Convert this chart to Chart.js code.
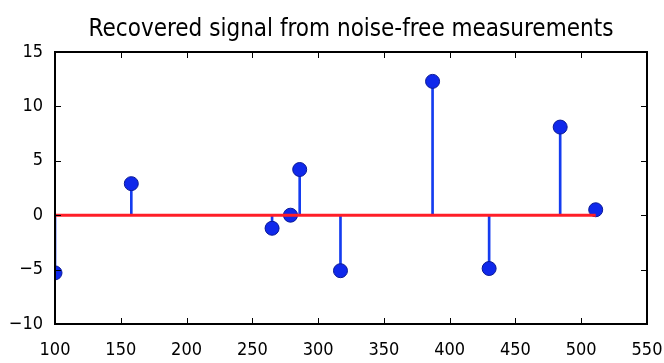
<!DOCTYPE html>
<html>
<head>
<meta charset="utf-8">
<script src="https://cdn.jsdelivr.net/npm/chart.js@4/dist/chart.umd.min.js"></script>
<style>
  html, body { margin: 0; padding: 0; background: #fff; }
  #wrap { width: 664px; height: 363px; }
</style>
</head>
<body>
<div id="wrap"><canvas id="stemChart"></canvas></div>
<script>
// recovered signal (sample index / amplitude)
var positions = [100, 158, 265, 279, 286, 317, 387, 430, 484, 511];
var amplitudes = [-5.3, 2.9, -1.2, 0.0, 4.2, -5.1, 12.3, -4.9, 8.1, 0.5];
var xTicks = [100, 150, 200, 250, 300, 350, 400, 450, 500, 550];
var yTicks = [-10, -5, 0, 5, 10, 15];
var titleText = 'Recovered signal from noise-free measurements';

var pts = positions.map(function (x, i) { return { x: x, y: amplitudes[i] }; });
var baseline = [
    { x: Math.min.apply(null, positions), y: 0 },
    { x: Math.max.apply(null, positions), y: 0 }
];

function fmt(v) {
    return v < 0 ? '\u2212' + Math.abs(v) : String(v);
}

var fontFam = '"DejaVu Sans Condensed", "DejaVu Sans", sans-serif';

// matplotlib style frame with inward ticks, title centred over the axes
var framePlugin = {
    id: 'frame',
    afterDatasetsDraw: function (chart) {
        var c = chart.ctx, a = chart.chartArea;
        var xs = chart.scales.x, ys = chart.scales.y;
        c.save();
        c.strokeStyle = '#000';
        c.lineWidth = 1;
        xTicks.forEach(function (t) {
            var px = Math.round(xs.getPixelForValue(t)) + 0.5;
            c.beginPath();
            c.moveTo(px, a.bottom); c.lineTo(px, a.bottom - 6);
            c.moveTo(px, a.top); c.lineTo(px, a.top + 6);
            c.stroke();
        });
        yTicks.forEach(function (t) {
            var py = Math.round(ys.getPixelForValue(t)) + 0.5;
            c.beginPath();
            c.moveTo(a.left, py); c.lineTo(a.left + 6, py);
            c.moveTo(a.right, py); c.lineTo(a.right - 6, py);
            c.stroke();
        });
        c.lineWidth = 2;
        c.strokeRect(a.left, a.top, a.right - a.left, a.bottom - a.top);

        c.fillStyle = '#000';
        c.font = '24px ' + fontFam;
        c.textAlign = 'center';
        c.textBaseline = 'middle';
        c.fillText(titleText, (a.left + a.right) / 2, 30);
        c.restore();
    }
};

var ctx = document.getElementById('stemChart').getContext('2d');
var myChart = new Chart(ctx, {
    type: 'scatter',
    data: {
        datasets: [{
            type: 'line',
            data: baseline,
            borderColor: 'rgb(255, 30, 40)',
            borderWidth: 3,
            pointRadius: 0,
            order: 0
        }, {
            type: 'scatter',
            data: pts,
            backgroundColor: 'rgb(15, 40, 235)',
            borderColor: 'rgb(10, 25, 150)',
            borderWidth: 1,
            pointRadius: 7,
            clip: 0,
            order: 1
        }, {
            type: 'bar',
            data: pts,
            backgroundColor: 'rgb(20, 60, 240)',
            barThickness: 2,
            order: 2
        }]
    },
    options: {
        responsive: true,
        maintainAspectRatio: false,
        animation: false,
        layout: { padding: { left: 0, right: 17, top: 52, bottom: 0 } },
        plugins: {
            legend: { display: false },
            tooltip: { enabled: false },
            title: { display: false }
        },
        scales: {
            x: {
                type: 'linear',
                offset: false,
                min: 100,
                max: 550,
                grid: { display: false, offset: false },
                border: { display: false },
                afterBuildTicks: function (s) { s.ticks = xTicks.map(function (v) { return { value: v }; }); },
                afterFit: function (s) { s.height = 39; s.paddingLeft = 0; s.paddingRight = 0; },
                ticks: {
                    color: '#000',
                    padding: 8,
                    maxRotation: 0,
                    font: { family: fontFam, size: 18 },
                    callback: function (v) { return fmt(v); }
                }
            },
            y: {
                min: -10,
                max: 15,
                grid: { display: false },
                border: { display: false },
                afterBuildTicks: function (s) { s.ticks = yTicks.map(function (v) { return { value: v }; }); },
                afterFit: function (s) { s.width = 55; s.paddingTop = 0; s.paddingBottom = 0; },
                ticks: {
                    color: '#000',
                    padding: 4,
                    font: { family: fontFam, size: 18 },
                    callback: function (v) { return fmt(v); }
                }
            }
        }
    },
    plugins: [framePlugin]
});
</script>
</body>
</html>
